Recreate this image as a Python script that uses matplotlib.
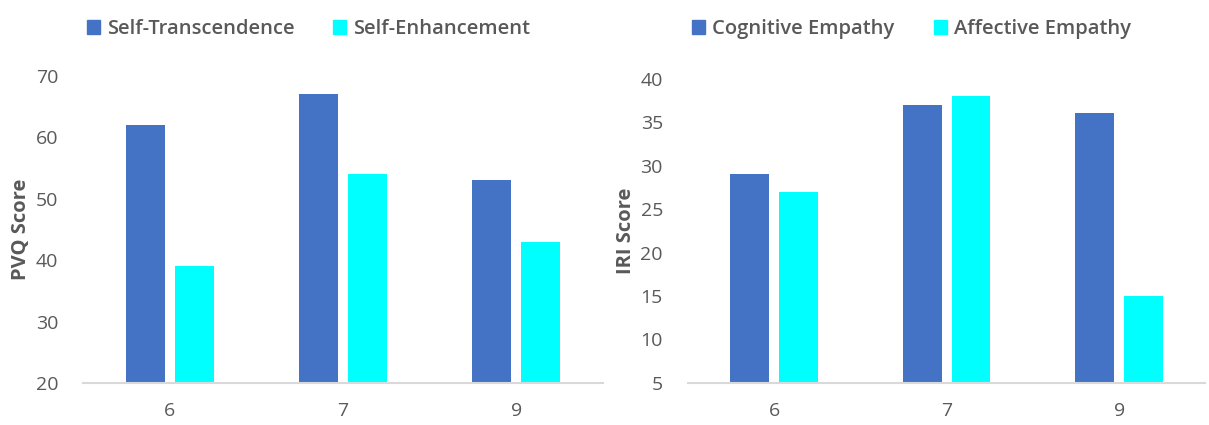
import numpy as np
import matplotlib
matplotlib.use('Agg')
import matplotlib.pyplot as plt
from matplotlib.patches import Patch

plt.rcParams['font.family'] = ['Open Sans', 'DejaVu Sans']

ages = ['6', '7', '9']
self_transcendence = [62, 67, 53]
self_enhancement = [39, 54, 43]
cognitive_empathy = [29, 37, 36]
affective_empathy = [27, 38, 15]

blue = '#4472c4'
cyan = '#00ffff'
grey_txt = '#595959'

fig = plt.figure(figsize=(12.09, 4.25), dpi=100)
ax1 = fig.add_axes([0.0687, 0.099, 0.430, 0.722])
ax2 = fig.add_axes([0.569, 0.099, 0.428, 0.716])

x = np.arange(len(ages))
w = 0.225
off = 0.141


def style(ax, ymin, ymax, step, ylabel):
    ax.set_xlim(-0.5, 2.5)
    ax.set_ylim(ymin, ymax)
    ax.set_yticks(np.arange(ymin, ymax + 1, step))
    ax.set_xticks(x)
    ax.set_xticklabels(ages)
    for s in ['top', 'right', 'left']:
        ax.spines[s].set_visible(False)
    ax.spines['bottom'].set_color('#d9d9d9')
    ax.spines['bottom'].set_linewidth(1.5)
    ax.tick_params(axis='both', length=0, labelsize=14, labelcolor=grey_txt)
    ax.tick_params(axis='x', pad=14)
    ax.tick_params(axis='y', pad=18)
    ax.set_ylabel(ylabel, fontsize=14.5, fontweight='bold', color=grey_txt, labelpad=3)


ax1.bar(x - off, self_transcendence, w, color=blue)
ax1.bar(x + off, self_enhancement, w, color=cyan)
style(ax1, 20, 70, 10, 'PVQ Score')

ax2.bar(x - off, cognitive_empathy, w, color=blue)
ax2.bar(x + off, affective_empathy, w, color=cyan)
style(ax2, 5, 40, 5, 'IRI Score')

h1 = [Patch(color=blue), Patch(color=cyan)]
fig.legend(h1, ['Self-Transcendence', 'Self-Enhancement'], loc='center left',
           bbox_to_anchor=(0.057, 0.932), ncol=2, frameon=False,
           handlelength=0.65, handleheight=0.65, handletextpad=0.35, columnspacing=1.9,
           prop={'size': 14.5, 'weight': 'semibold'}, labelcolor=grey_txt)
fig.legend(h1, ['Cognitive Empathy', 'Affective Empathy'], loc='center left',
           bbox_to_anchor=(0.557, 0.932), ncol=2, frameon=False,
           handlelength=0.65, handleheight=0.65, handletextpad=0.35, columnspacing=2.0,
           prop={'size': 14.5, 'weight': 'semibold'}, labelcolor=grey_txt)

fig.savefig('out.png', dpi=100)
